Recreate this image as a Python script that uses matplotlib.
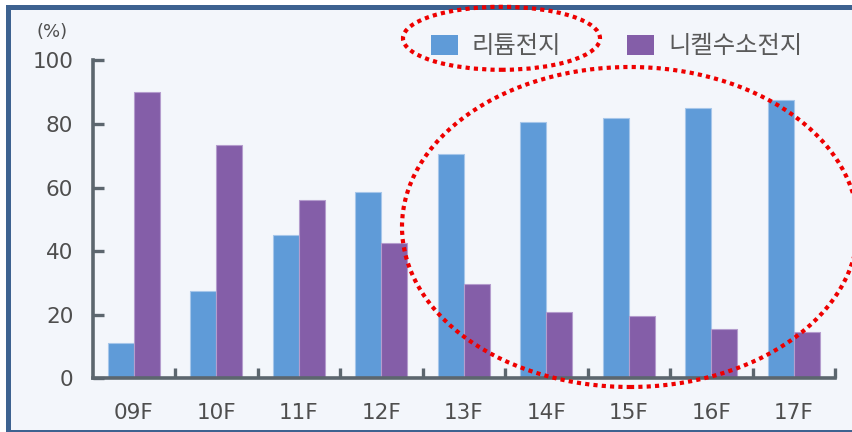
import matplotlib
matplotlib.use("Agg")
import matplotlib.pyplot as plt
from matplotlib.patches import Rectangle, Ellipse
import numpy as np

# Battery share by year (%)
years = ["09F", "10F", "11F", "12F", "13F", "14F", "15F", "16F", "17F"]
lithium = [11, 27.5, 45, 58.5, 70.5, 80.5, 82, 85, 87.5]
nickel = [90, 73.5, 56, 42.5, 29.5, 21, 19.5, 15.5, 14.5]
series_names = ["리튬전지", "니켈수소전지"]
y_ticks = [0, 20, 40, 60, 80, 100]
unit_label = "(%)"

W, H = 852, 432
BG = "#f3f6fb"
BLUE = "#5f9bd8"
PURPLE = "#845ea8"
AXIS = "#5c666e"
TXT = "#4e4e4e"
KR = ["Noto Sans CJK KR", "DejaVu Sans"]


def fx(x):
    return x / W


def fy(y):
    return 1 - y / H


fig = plt.figure(figsize=(W / 100, H / 100), dpi=100, facecolor="white")

# panel frame
fig.add_artist(Rectangle((fx(6), fy(432)), fx(870) - fx(6), fy(5) - fy(432),
                         transform=fig.transFigure, facecolor="#3d6290",
                         edgecolor="none", zorder=-10))
fig.add_artist(Rectangle((fx(11), fy(430)), fx(870) - fx(11), fy(10) - fy(430),
                         transform=fig.transFigure, facecolor=BG,
                         edgecolor="none", zorder=-9))

ax_l, ax_r, ax_b, ax_t = 92.7, 835, 378.3, 60.3
ax = fig.add_axes([fx(ax_l), fy(ax_b), fx(ax_r) - fx(ax_l), fy(ax_t) - fy(ax_b)])
ax.set_facecolor("none")

x = np.arange(len(years))
w = 0.315
ax.bar(x - w / 2, lithium, w, color=BLUE, edgecolor="#a6c6ea", linewidth=0.8, zorder=2)
ax.bar(x + w / 2, nickel, w, color=PURPLE, edgecolor="#b49ccd", linewidth=0.8, zorder=2)

ax.set_xlim(-0.5, len(years) - 0.5)
ax.set_ylim(0, 100)

for s in ["top", "right"]:
    ax.spines[s].set_visible(False)
for s in ["left", "bottom"]:
    ax.spines[s].set_color(AXIS)
    ax.spines[s].set_linewidth(2.6)
    ax.spines[s].set_capstyle("projecting")

ax.set_yticks(y_ticks)
ax.set_yticklabels([str(v) for v in y_ticks])
ax.tick_params(axis="y", direction="in", length=8, width=2.4, color=AXIS,
               pad=14, labelsize=15.5, labelcolor=TXT)

ax.set_xticks(x)
ax.set_xticklabels(years)
ax.tick_params(axis="x", which="major", length=0, pad=18, labelsize=15.5, labelcolor=TXT)
ax.set_xticks(np.arange(len(years)) + 0.5, minor=True)
ax.tick_params(axis="x", which="minor", direction="in", length=7.5, width=2.4, color=AXIS)

fig.text(fx(52), fy(32), unit_label, ha="center", va="center", fontsize=13, color=TXT)

# legend
legend_items = [(431, 472, BLUE, series_names[0]), (627, 668, PURPLE, series_names[1])]
for hx, tx, col, name in legend_items:
    fig.add_artist(Rectangle((fx(hx), fy(55)), fx(27), fy(35) - fy(55),
                             transform=fig.transFigure, facecolor=col,
                             edgecolor="none", zorder=5))
    fig.text(fx(tx), fy(46), name, ha="left", va="center", fontsize=17.5,
             color="#5a5a5a", family=KR)

# dotted highlight ellipses
for cx, cy, ew, eh in [(501.5, 38.3, 197, 63), (630, 227, 456, 320)]:
    fig.add_artist(Ellipse((fx(cx), fy(cy)), fx(ew), eh / H,
                           transform=fig.transFigure, fill=False,
                           edgecolor="#ee0000", linewidth=3.0,
                           linestyle=(0, (1, 1.0)), zorder=10))

fig.savefig("out.png", dpi=100, facecolor="white")
